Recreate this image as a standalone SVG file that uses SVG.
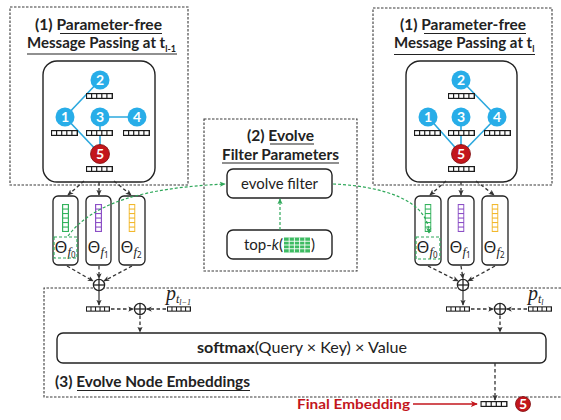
<svg xmlns="http://www.w3.org/2000/svg" xmlns:xlink="http://www.w3.org/1999/xlink" width="561" height="420" viewBox="0 0 561 420">
  <style>
    .frame { fill: none; stroke: #3a3a3a; stroke-width: 1.1; stroke-dasharray: 2.5 1.5; }
    .panel { fill: #fff; stroke: #222; stroke-width: 1.4; }
    .title { font-family: Lato, "Open Sans", "Liberation Sans", sans-serif; font-weight: 700; font-size: 15px; fill: #222; }
    .ul { stroke: #222; stroke-width: 1.2; }
    .label { font-family: Lato, "Open Sans", "Liberation Sans", sans-serif; font-size: 15px; fill: #222; }
    .edge { stroke: #2ba8de; stroke-width: 1.6; }
    .blue { fill: #28ade8; }
    .red { fill: #c3161c; stroke: #7d0b0e; stroke-width: 0.8; }
    .num { font-family: Lato, "Liberation Sans", sans-serif; font-weight: 700; font-size: 14px; fill: #fff; text-anchor: middle; }
    .filt { fill: #fff; stroke: #222; stroke-width: 1.3; }
    .theta { font-family: "Noto Sans", "DejaVu Sans", sans-serif; font-size: 16.5px; fill: #222; }
    .mi { font-family: "Liberation Serif", serif; font-style: italic; }
    .dash { fill: none; stroke: #333; stroke-width: 1.3; stroke-dasharray: 3.5 2.5; }
    .solid { fill: none; stroke: #333; stroke-width: 1.2; }
    .green { fill: none; stroke: #2fa85a; stroke-width: 1.2; stroke-dasharray: 3 2; }
    .plus circle { fill: #fff; stroke: #222; stroke-width: 1.3; }
    .plus line { stroke: #222; stroke-width: 1.3; }
    .plabel { font-family: "Liberation Serif", serif; font-style: italic; font-size: 20px; fill: #222; }
    .final { font-family: Lato, "Open Sans", "Liberation Sans", sans-serif; font-weight: 700; font-size: 14px; fill: #c3161c; }
  </style>
  <defs>
    <!-- five-cell embedding vector -->
    <symbol id="emb" viewBox="0 0 27 6">
      <rect width="27" height="6" fill="#1c1c1c"/>
      <rect x="1.1" y="1.2" width="3.9" height="3.6" fill="#fff"/>
      <rect x="6.2" y="1.2" width="3.9" height="3.6" fill="#fff"/>
      <rect x="11.3" y="1.2" width="3.9" height="3.6" fill="#fff"/>
      <rect x="16.4" y="1.2" width="3.9" height="3.6" fill="#fff"/>
      <rect x="21.5" y="1.2" width="4.1" height="3.6" fill="#fff"/>
    </symbol>
    <!-- six-cell vertical filter vector, tinted by currentColor -->
    <symbol id="vbar" viewBox="0 0 7 28">
      <rect width="7" height="28" fill="currentColor"/>
      <rect x="1.2" y="1.1" width="4.6" height="3.4" fill="#fff"/>
      <rect x="1.2" y="5.6" width="4.6" height="3.4" fill="#fff"/>
      <rect x="1.2" y="10.1" width="4.6" height="3.4" fill="#fff"/>
      <rect x="1.2" y="14.6" width="4.6" height="3.4" fill="#fff"/>
      <rect x="1.2" y="19.1" width="4.6" height="3.4" fill="#fff"/>
      <rect x="1.2" y="23.6" width="4.6" height="3.3" fill="#fff"/>
    </symbol>
    <symbol id="oplus" viewBox="-7 -7 14 14" class="plus">
      <circle r="5.6"/>
      <line x1="-5.6" y1="0" x2="5.6" y2="0"/>
      <line x1="0" y1="-5.6" x2="0" y2="5.6"/>
    </symbol>
    <marker id="ah" viewBox="0 0 8 8" refX="7" refY="4" markerWidth="6" markerHeight="6" orient="auto" markerUnits="userSpaceOnUse">
      <path d="M0,0.5 L8,4 L0,7.5 L2,4 Z" fill="#333"/>
    </marker>
    <marker id="ahg" viewBox="0 0 8 8" refX="7" refY="4" markerWidth="6" markerHeight="6" orient="auto" markerUnits="userSpaceOnUse">
      <path d="M0,0.5 L8,4 L0,7.5 L2,4 Z" fill="#2fa85a"/>
    </marker>
    <marker id="ahr" viewBox="0 0 8 8" refX="7" refY="4" markerWidth="7" markerHeight="7" orient="auto" markerUnits="userSpaceOnUse">
      <path d="M0,0.5 L8,4 L0,7.5 L2,4 Z" fill="#c3161c"/>
    </marker>
  </defs>

  <rect width="561" height="420" fill="#fff"/>

  <!-- (1) message passing at t_{l-1} -->
  <g id="mp-prev">
    <rect class="frame" x="10" y="7" width="178" height="178"/>
    <text class="title" x="35" y="30" textLength="127" lengthAdjust="spacingAndGlyphs">(1) Parameter-free</text>
    <line class="ul" x1="60" y1="33.5" x2="162" y2="33.5"/>
    <text class="title" x="27" y="48">Message Passing at t<tspan font-size="9" dy="4">l-1</tspan></text>
    <line class="ul" x1="27" y1="54" x2="177" y2="54"/>
    <rect class="panel" x="43" y="61" width="112" height="121" rx="14"/>
    <g class="edges">
      <line class="edge" x1="65" y1="117" x2="100" y2="80"/>
      <line class="edge" x1="65" y1="117" x2="100" y2="154"/>
      <line class="edge" x1="100" y1="117" x2="137" y2="117"/>
      <line class="edge" x1="100" y1="117" x2="100" y2="154"/>
    </g>
    <use href="#emb" x="86" y="93" width="27" height="6"/>
    <use href="#emb" x="51" y="130" width="27" height="6"/>
    <use href="#emb" x="86" y="130" width="27" height="6"/>
    <use href="#emb" x="123" y="130" width="27" height="6"/>
    <use href="#emb" x="86" y="166" width="27" height="6"/>
    <g id="prev-n2"><circle class="blue" cx="100" cy="80" r="9.5"/><text class="num" x="100" y="85">2</text></g>
    <g id="prev-n1"><circle class="blue" cx="65" cy="117" r="9.5"/><text class="num" x="65" y="122">1</text></g>
    <g id="prev-n3"><circle class="blue" cx="100" cy="117" r="9.5"/><text class="num" x="100" y="122">3</text></g>
    <g id="prev-n4"><circle class="blue" cx="137" cy="117" r="9.5"/><text class="num" x="137" y="122">4</text></g>
    <g id="prev-n5"><circle class="red" cx="100" cy="154" r="9.5"/><text class="num" x="100" y="159">5</text></g>
  </g>

  <!-- (1) message passing at t_l -->
  <g id="mp-curr">
    <rect class="frame" x="373" y="8" width="179" height="177"/>
    <text class="title" x="400" y="30" textLength="126" lengthAdjust="spacingAndGlyphs">(1) Parameter-free</text>
    <line class="ul" x1="424" y1="33.5" x2="526" y2="33.5"/>
    <text class="title" x="394" y="48">Message Passing at t<tspan font-size="9" dy="4">l</tspan></text>
    <line class="ul" x1="394" y1="54.5" x2="535" y2="54.5"/>
    <rect class="panel" x="406" y="61" width="111" height="121" rx="14"/>
    <g class="edges">
      <line class="edge" x1="461" y1="80" x2="497" y2="117"/>
      <line class="edge" x1="428" y1="117" x2="461" y2="154"/>
      <line class="edge" x1="461" y1="117" x2="461" y2="154"/>
      <line class="edge" x1="497" y1="117" x2="461" y2="154"/>
    </g>
    <use href="#emb" x="448" y="93" width="27" height="6"/>
    <use href="#emb" x="414" y="130" width="27" height="6"/>
    <use href="#emb" x="448" y="130" width="27" height="6"/>
    <use href="#emb" x="484" y="130" width="27" height="6"/>
    <use href="#emb" x="448" y="166" width="27" height="6"/>
    <g id="curr-n2"><circle class="blue" cx="461" cy="80" r="9.5"/><text class="num" x="461" y="85">2</text></g>
    <g id="curr-n1"><circle class="blue" cx="428" cy="117" r="9.5"/><text class="num" x="428" y="122">1</text></g>
    <g id="curr-n3"><circle class="blue" cx="461" cy="117" r="9.5"/><text class="num" x="461" y="122">3</text></g>
    <g id="curr-n4"><circle class="blue" cx="497" cy="117" r="9.5"/><text class="num" x="497" y="122">4</text></g>
    <g id="curr-n5"><circle class="red" cx="461" cy="154" r="9.5"/><text class="num" x="461" y="159">5</text></g>
  </g>

  <!-- (2) evolve filter parameters -->
  <g id="evolve-params">
    <rect class="frame" x="204" y="119" width="153" height="152"/>
    <text class="title" x="247" y="141" textLength="67" lengthAdjust="spacingAndGlyphs">(2) Evolve</text>
    <line class="ul" x1="270" y1="144" x2="314" y2="144"/>
    <text class="title" x="222" y="160" textLength="117" lengthAdjust="spacingAndGlyphs">Filter Parameters</text>
    <line class="ul" x1="222" y1="163" x2="339" y2="163"/>
  </g>
  <g id="evolve-filter">
    <rect class="panel" x="227" y="169" width="105" height="29" rx="6"/>
    <text class="label" x="279.5" y="189" text-anchor="middle" textLength="77" lengthAdjust="spacingAndGlyphs">evolve filter</text>
  </g>
  <g id="top-k">
    <rect class="panel" x="227" y="230" width="105" height="29" rx="6"/>
    <text class="label" x="244" y="250" textLength="39" lengthAdjust="spacingAndGlyphs">top-<tspan font-style="italic">k</tspan>(</text>
    <rect x="284" y="237.5" width="26" height="15" fill="#3dbb62"/>
    <g stroke="#fff" stroke-width="0.9">
      <line x1="289.2" y1="237.5" x2="289.2" y2="252.5"/>
      <line x1="294.4" y1="237.5" x2="294.4" y2="252.5"/>
      <line x1="299.6" y1="237.5" x2="299.6" y2="252.5"/>
      <line x1="304.8" y1="237.5" x2="304.8" y2="252.5"/>
      <line x1="284" y1="241.25" x2="310" y2="241.25"/>
      <line x1="284" y1="245" x2="310" y2="245"/>
      <line x1="284" y1="248.75" x2="310" y2="248.75"/>
    </g>
    <text class="label" x="311" y="250">)</text>
  </g>

  <!-- filters at t_{l-1} -->
  <g id="filters-prev">
    <g id="prev-f0">
      <rect class="filt" x="53" y="196" width="25" height="69" rx="5"/>
      <use href="#vbar" x="62" y="204" width="7" height="28" color="#33b25c"/>
      <text class="theta" x="54.5" y="253">Θ<tspan class="mi" font-size="13" dy="2.5">f</tspan><tspan font-size="8" dy="2">0</tspan></text>
      <rect class="green" x="54" y="237" width="23" height="21"/>
    </g>
    <g id="prev-f1">
      <rect class="filt" x="86" y="196" width="25" height="69" rx="5"/>
      <use href="#vbar" x="95" y="204" width="7" height="28" color="#8c4fc6"/>
      <text class="theta" x="87.5" y="253">Θ<tspan class="mi" font-size="13" dy="2.5">f</tspan><tspan font-size="8" dy="2">1</tspan></text>
    </g>
    <g id="prev-f2">
      <rect class="filt" x="119" y="196" width="26" height="69" rx="5"/>
      <use href="#vbar" x="128.5" y="204" width="7" height="28" color="#f2b82c"/>
      <text class="theta" x="120.5" y="253">Θ<tspan class="mi" font-size="13" dy="2.5">f</tspan><tspan font-size="8" dy="2">2</tspan></text>
    </g>
  </g>

  <!-- filters at t_l -->
  <g id="filters-curr">
    <g id="curr-f0">
      <rect class="filt" x="415" y="196" width="26" height="69" rx="5"/>
      <use href="#vbar" x="424.5" y="204" width="7" height="28" color="#33b25c"/>
      <text class="theta" x="416.5" y="253">Θ<tspan class="mi" font-size="13" dy="2.5">f</tspan><tspan font-size="8" dy="2">0</tspan></text>
      <rect class="green" x="416" y="237" width="24" height="22"/>
    </g>
    <g id="curr-f1">
      <rect class="filt" x="448" y="196" width="26" height="69" rx="5"/>
      <use href="#vbar" x="457.5" y="204" width="7" height="28" color="#8c4fc6"/>
      <text class="theta" x="449.5" y="253">Θ<tspan class="mi" font-size="13" dy="2.5">f</tspan><tspan font-size="8" dy="2">1</tspan></text>
    </g>
    <g id="curr-f2">
      <rect class="filt" x="482" y="196" width="26" height="69" rx="5"/>
      <use href="#vbar" x="491.5" y="204" width="7" height="28" color="#f2b82c"/>
      <text class="theta" x="483.5" y="253">Θ<tspan class="mi" font-size="13" dy="2.5">f</tspan><tspan font-size="8" dy="2">2</tspan></text>
    </g>
  </g>

  <!-- (3) evolve node embeddings -->
  <g id="evolve-embed">
    <path class="frame" d="M561,288 H44 V397 H561"/>
    <text class="title" x="55" y="387" textLength="195" lengthAdjust="spacingAndGlyphs">(3) Evolve Node Embeddings</text>
    <line class="ul" x1="77" y1="390.5" x2="250" y2="390.5"/>
  </g>
  <g id="attention">
    <rect class="panel" x="57" y="333" width="489" height="30" rx="6"/>
    <text class="label" x="302" y="353" text-anchor="middle" textLength="210" lengthAdjust="spacingAndGlyphs"><tspan font-weight="700">softmax</tspan>(Query ×  Key) × Value</text>
  </g>

  <!-- aggregation and positional terms -->
  <g id="sum-prev">
    <use href="#oplus" x="92" y="278" width="14" height="14"/>
    <use href="#emb" x="86" y="306" width="24" height="6"/>
    <use href="#oplus" x="133" y="302" width="14" height="14"/>
    <use href="#emb" x="167" y="306" width="24" height="6"/>
    <text class="plabel" x="166" y="300">p<tspan font-size="12" dy="3">t</tspan><tspan font-size="8" dy="2">l−1</tspan></text>
  </g>
  <g id="sum-curr">
    <use href="#oplus" x="456" y="278" width="14" height="14"/>
    <use href="#emb" x="446" y="306" width="24" height="6"/>
    <use href="#oplus" x="493" y="302" width="14" height="14"/>
    <use href="#emb" x="528" y="306" width="24" height="6"/>
    <text class="plabel" x="528" y="300">p<tspan font-size="12" dy="3">t</tspan><tspan font-size="8" dy="2">l</tspan></text>
  </g>

  <g id="final">
    <text class="final" x="297" y="409" textLength="113" lengthAdjust="spacingAndGlyphs">Final Embedding</text>
    <use href="#emb" x="480" y="401" width="28" height="6"/>
    <circle class="red" cx="523" cy="404" r="7.5"/>
    <text class="num" x="523" y="408.5" font-size="11">5</text>
  </g>

  <!-- connectors -->
  <g id="connectors">
    <path class="dash" d="M84,181 L68,195" marker-end="url(#ah)"/>
    <path class="dash" d="M99,182 L99,195" marker-end="url(#ah)"/>
    <path class="dash" d="M114,181 L131,195" marker-end="url(#ah)"/>
    <path class="dash" d="M446,181 L430,195" marker-end="url(#ah)"/>
    <path class="dash" d="M461,182 L461,195" marker-end="url(#ah)"/>
    <path class="dash" d="M476,181 L494,195" marker-end="url(#ah)"/>

    <path class="dash" d="M67,266 L93,281" marker-end="url(#ah)"/>
    <path class="dash" d="M99,266 L99,278.5" marker-end="url(#ah)"/>
    <path class="dash" d="M132,266 L104,281" marker-end="url(#ah)"/>
    <path class="dash" d="M428,266 L458,281" marker-end="url(#ah)"/>
    <path class="dash" d="M461,266 L463,278.5" marker-end="url(#ah)"/>
    <path class="dash" d="M495,266 L468,281" marker-end="url(#ah)"/>

    <path class="solid" d="M99,291 L99,305" marker-end="url(#ah)"/>
    <path class="dash" d="M111,309 L133.5,309" marker-end="url(#ah)"/>
    <path class="dash" d="M166,309 L146.5,309" marker-end="url(#ah)"/>
    <path class="dash" d="M140,315.5 L140,332" marker-end="url(#ah)"/>
    <path class="solid" d="M463,291 L463,305" marker-end="url(#ah)"/>
    <path class="dash" d="M471,309 L493.5,309" marker-end="url(#ah)"/>
    <path class="dash" d="M527,309 L506.5,309" marker-end="url(#ah)"/>
    <path class="dash" d="M500,315.5 L500,332" marker-end="url(#ah)"/>

    <path class="dash" d="M495,363 L495,400" marker-end="url(#ah)"/>
    <path fill="none" stroke="#c3161c" stroke-width="1.3" d="M413,404 L477,404" marker-end="url(#ahr)"/>

    <path class="green" d="M68,236 C92,204 140,188 225,184" marker-end="url(#ahg)"/>
    <path class="green" d="M280,230 L280,199" marker-end="url(#ahg)"/>
    <path class="green" d="M333,184 C382,186 428,200 429,233" marker-end="url(#ahg)"/>
  </g>
</svg>
